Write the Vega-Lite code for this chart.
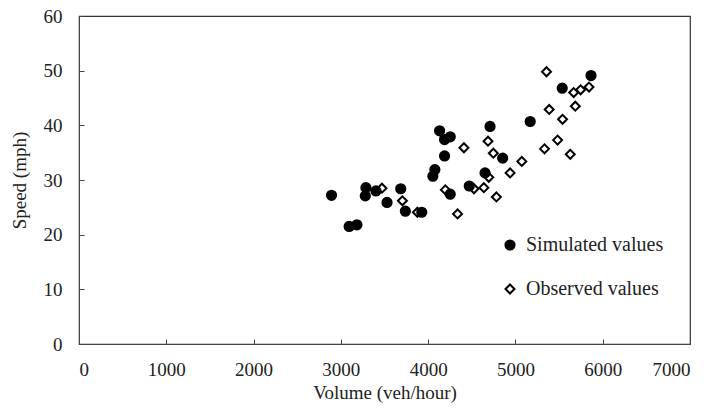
{
  "$schema": "https://vega.github.io/schema/vega-lite/v6.json",
  "autosize": "none",
  "width": 611,
  "height": 328,
  "padding": {"left": 79, "top": 16, "right": 24, "bottom": 68},
  "background": "white",
  "config": {
    "font": "Liberation Serif",
    "view": {"stroke": "#333", "strokeWidth": 1.2},
    "axis": {
      "grid": false,
      "domainColor": "#444",
      "tickColor": "#444",
      "labelColor": "#222",
      "titleColor": "#222",
      "labelFont": "Liberation Serif",
      "titleFont": "Liberation Serif",
      "labelFontSize": 19,
      "titleFontSize": 19,
      "titleFontWeight": "normal",
      "tickSize": -5
    },
    "legend": {"labelFont": "Liberation Serif"}
  },
  "data": {
    "values": [
      {"volume": 2893, "speed": 27.2, "series": "Simulated values"},
      {"volume": 3095, "speed": 21.5, "series": "Simulated values"},
      {"volume": 3184, "speed": 21.8, "series": "Simulated values"},
      {"volume": 3287, "speed": 28.6, "series": "Simulated values"},
      {"volume": 3280, "speed": 27.1, "series": "Simulated values"},
      {"volume": 3402, "speed": 28.0, "series": "Simulated values"},
      {"volume": 3529, "speed": 25.9, "series": "Simulated values"},
      {"volume": 3686, "speed": 28.4, "series": "Simulated values"},
      {"volume": 3739, "speed": 24.3, "series": "Simulated values"},
      {"volume": 3927, "speed": 24.1, "series": "Simulated values"},
      {"volume": 4054, "speed": 30.7, "series": "Simulated values"},
      {"volume": 4077, "speed": 31.9, "series": "Simulated values"},
      {"volume": 4188, "speed": 34.4, "series": "Simulated values"},
      {"volume": 4253, "speed": 27.4, "series": "Simulated values"},
      {"volume": 4131, "speed": 39.0, "series": "Simulated values"},
      {"volume": 4188, "speed": 37.4, "series": "Simulated values"},
      {"volume": 4253, "speed": 37.9, "series": "Simulated values"},
      {"volume": 4471, "speed": 28.9, "series": "Simulated values"},
      {"volume": 4652, "speed": 31.3, "series": "Simulated values"},
      {"volume": 4709, "speed": 39.8, "series": "Simulated values"},
      {"volume": 4854, "speed": 34.0, "series": "Simulated values"},
      {"volume": 5169, "speed": 40.7, "series": "Simulated values"},
      {"volume": 5536, "speed": 46.8, "series": "Simulated values"},
      {"volume": 5866, "speed": 49.1, "series": "Simulated values"},
      {"volume": 3471, "speed": 28.5, "series": "Observed values"},
      {"volume": 3705, "speed": 26.2, "series": "Observed values"},
      {"volume": 3877, "speed": 24.1, "series": "Observed values"},
      {"volume": 4197, "speed": 28.2, "series": "Observed values"},
      {"volume": 4337, "speed": 23.8, "series": "Observed values"},
      {"volume": 4410, "speed": 35.9, "series": "Observed values"},
      {"volume": 4525, "speed": 28.4, "series": "Observed values"},
      {"volume": 4638, "speed": 28.6, "series": "Observed values"},
      {"volume": 4686, "speed": 37.1, "series": "Observed values"},
      {"volume": 4695, "speed": 30.5, "series": "Observed values"},
      {"volume": 4747, "speed": 34.9, "series": "Observed values"},
      {"volume": 4782, "speed": 26.9, "series": "Observed values"},
      {"volume": 4939, "speed": 31.3, "series": "Observed values"},
      {"volume": 5073, "speed": 33.4, "series": "Observed values"},
      {"volume": 5333, "speed": 35.7, "series": "Observed values"},
      {"volume": 5356, "speed": 49.8, "series": "Observed values"},
      {"volume": 5387, "speed": 42.9, "series": "Observed values"},
      {"volume": 5483, "speed": 37.3, "series": "Observed values"},
      {"volume": 5540, "speed": 41.1, "series": "Observed values"},
      {"volume": 5628, "speed": 34.7, "series": "Observed values"},
      {"volume": 5667, "speed": 46.0, "series": "Observed values"},
      {"volume": 5686, "speed": 43.5, "series": "Observed values"},
      {"volume": 5747, "speed": 46.5, "series": "Observed values"},
      {"volume": 5843, "speed": 47.0, "series": "Observed values"}
    ]
  },
  "mark": {"type": "point", "filled": false, "stroke": "black", "strokeWidth": 2, "opacity": 1},
  "encoding": {
    "x": {
      "field": "volume", "type": "quantitative",
      "scale": {"domain": [0, 7000], "nice": false, "zero": true},
      "axis": {"values": [0, 1000, 2000, 3000, 4000, 5000, 6000, 7000], "title": "Volume (veh/hour)", "labelPadding": 21, "titlePadding": 4, "format": "d"}
    },
    "y": {
      "field": "speed", "type": "quantitative",
      "scale": {"domain": [0, 60], "nice": false},
      "axis": {"values": [0, 10, 20, 30, 40, 50, 60], "title": "Speed (mph)", "labelPadding": 22, "titlePadding": 14}
    },
    "shape": {
      "field": "series", "type": "nominal",
      "scale": {"domain": ["Simulated values", "Observed values"], "range": ["circle", "diamond"]},
      "legend": {
        "title": null, "orient": "none", "legendX": 421, "legendY": 219,
        "labelFontSize": 20, "labelFont": "Liberation Serif", "labelColor": "#222",
        "symbolStrokeWidth": 2, "symbolStrokeColor": "black", "rowPadding": 24, "labelOffset": 6
      }
    },
    "fill": {
      "field": "series", "type": "nominal",
      "scale": {"domain": ["Simulated values", "Observed values"], "range": ["black", "transparent"]}
    },
    "size": {
      "field": "series", "type": "nominal",
      "scale": {"domain": ["Simulated values", "Observed values"], "range": [85, 80]}
    }
  }
}
